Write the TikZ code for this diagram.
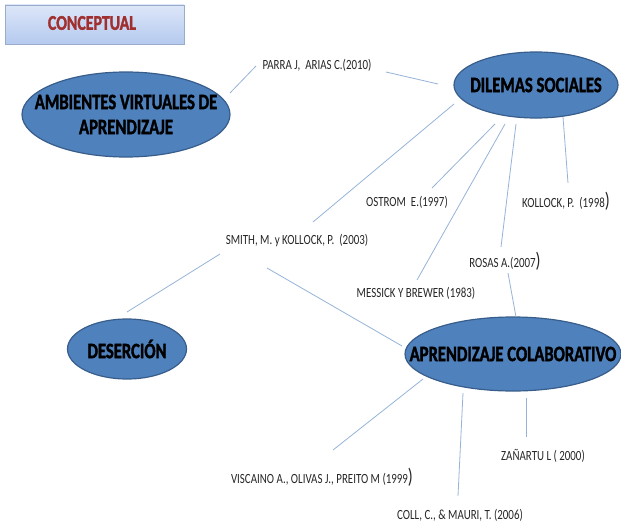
\documentclass[tikz,border=0pt]{standalone}
\usepackage{fontspec}
\setmainfont{Carlito}
\newfontfamily\refsfont[FakeStretch=0.78]{Carlito}
\newfontfamily\temafont[FakeStretch=0.755,BoldFeatures={FakeBold=1.6}]{Carlito}
\usetikzlibrary{shapes.geometric,shadows}
\definecolor{tema}{HTML}{4F81BD}
\definecolor{temaborde}{HTML}{385D8A}
\definecolor{linea}{HTML}{95B3D7}
\definecolor{rojo}{HTML}{A0302F}
\definecolor{cajaarriba}{HTML}{DCE6F8}
\definecolor{cajaabajo}{HTML}{B5CAEF}
\tikzset{
  tema/.style={ellipse,draw=temaborde,line width=1.2pt,fill=tema,inner sep=0pt,align=center,
    font=\temafont\bfseries\fontsize{22}{25}\selectfont},
  refe/.style={inner sep=0pt,text=black!85,font=\refsfont\fontsize{14}{15}\selectfont},
  enlace/.style={draw=linea,line width=0.8pt}
}
\newcommand{\grande}{{\fontsize{21}{21}\selectfont )}}
\begin{document}
\begin{tikzpicture}[x=1pt,y=-1pt]
				\useasboundingbox (0,0) rectangle (621,524);
				\node[rectangle,draw=cajaabajo!85!black,top color=cajaarriba,bottom color=cajaabajo,minimum width=179pt,minimum height=39pt,
				  drop shadow={opacity=0.25,shadow xshift=1pt,shadow yshift=-1.5pt}] (conceptual) at (94.5,24.5) {};
				\node[text=rojo,font=\temafont\bfseries\fontsize{21}{22}\selectfont] (conceptualtxt) at (92,23) {CONCEPTUAL};
				\node[tema,minimum width=208pt,minimum height=85pt] (ambientes) at (126,114.5) {\makebox[0pt]{AMBIENTES VIRTUALES DE}\\\makebox[0pt]{APRENDIZAJE}};
				\node[tema,minimum width=164pt,minimum height=66pt] (dilemas) at (536,85) {\makebox[0pt]{DILEMAS SOCIALES}};
				\node[tema,minimum width=119pt,minimum height=60pt] (desercion) at (127,349) {\makebox[0pt]{DESERCIÓN}};
				\node[tema,minimum width=216pt,minimum height=74pt] (aprendizaje) at (513,354) {\makebox[0pt]{APRENDIZAJE COLABORATIVO}};
				\node[refe] (parra) at (317,65) {PARRA J,~~ARIAS C.(2010)};
				\node[refe] (ostrom) at (407,202) {OSTROM~~E.(1997)};
				\node[refe] (kollock) at (566,201) {KOLLOCK, P.~~(1998\grande};
				\node[refe] (smith) at (297,241) {SMITH, M. y KOLLOCK, P.~~(2003)};
				\node[refe] (rosas) at (505,261) {ROSAS A.(2007\grande};
				\node[refe] (messick) at (416,293) {MESSICK Y BREWER (1983)};
				\node[refe] (viscaino) at (322,477) {VISCAINO A., OLIVAS J., PREITO M (1999\grande};
				\node[refe] (zanartu) at (543,456) {ZAÑARTU L ( 2000)};
				\node[refe] (coll) at (460,515) {COLL, C., \& MAURI, T. (2006)};
				\coordinate (a-p) at (230,93);  \coordinate (p-a) at (256,66);
				\coordinate (p-d) at (386,72);  \coordinate (d-p) at (438,84);
				\coordinate (d-s) at (454,104); \coordinate (s-d) at (313,222);
				\coordinate (d-o) at (495,124); \coordinate (o-d) at (432,188);
				\coordinate (d-m) at (505,124); \coordinate (m-d) at (417,280);
				\coordinate (d-r) at (516,124); \coordinate (r-d) at (501,247);
				\coordinate (d-k) at (563,117); \coordinate (k-d) at (568,183);
				\coordinate (s-de) at (220,254); \coordinate (de-s) at (127,312);
				\coordinate (s-ap) at (267,268); \coordinate (ap-s) at (402,346);
				\coordinate (r-ap) at (508,273); \coordinate (ap-r) at (516,317);
				\coordinate (ap-v) at (423,379); \coordinate (v-ap) at (333,450);
				\coordinate (ap-c) at (463,393); \coordinate (c-ap) at (458,496);
				\coordinate (ap-z) at (526,398); \coordinate (z-ap) at (526,437);
				\path[enlace] (a-p) -- (p-a);
				\path[enlace] (p-d) -- (d-p);
				\path[enlace] (d-s) -- (s-d);
				\path[enlace] (d-o) -- (o-d);
				\path[enlace] (d-m) -- (m-d);
				\path[enlace] (d-r) -- (r-d);
				\path[enlace] (d-k) -- (k-d);
				\path[enlace] (s-de) -- (de-s);
				\path[enlace] (s-ap) -- (ap-s);
				\path[enlace] (r-ap) -- (ap-r);
				\path[enlace] (ap-v) -- (v-ap);
				\path[enlace] (ap-c) -- (c-ap);
				\path[enlace] (ap-z) -- (z-ap);
			\end{tikzpicture}
\end{document}
